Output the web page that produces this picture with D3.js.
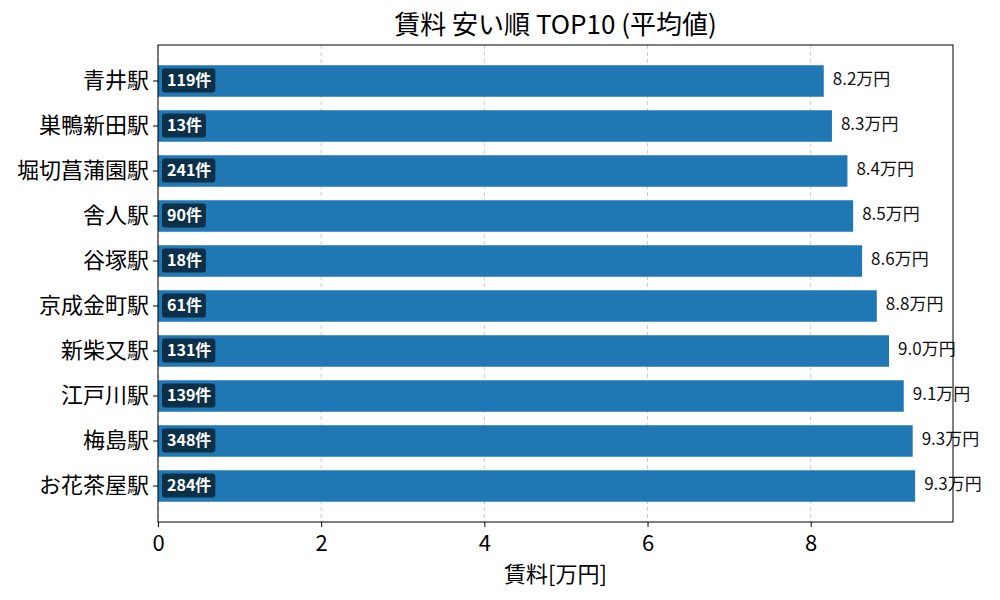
<!DOCTYPE html>
<html>
<head>
<meta charset="utf-8">
<title>賃料 安い順 TOP10</title>
<script src="https://d3js.org/d3.v7.min.js"></script>
<style>
  body { margin: 0; background: #fff; }
  text { font-family: "Noto Sans CJK JP", "Noto Sans", sans-serif; }
</style>
</head>
<body>
<script>
// data
var stations = ["青井駅", "巣鴨新田駅", "堀切菖蒲園駅", "舎人駅", "谷塚駅", "京成金町駅", "新柴又駅", "江戸川駅", "梅島駅", "お花茶屋駅"];
var rents = [8.16, 8.26, 8.45, 8.52, 8.63, 8.81, 8.96, 9.14, 9.25, 9.28];
var rentLabels = ["8.2", "8.3", "8.4", "8.5", "8.6", "8.8", "9.0", "9.1", "9.3", "9.3"];
var counts = [119, 13, 241, 90, 18, 61, 131, 139, 348, 284];
var xTicks = [0, 2, 4, 6, 8];

var w = 1000, h = 600;
var m = {left: 158, top: 45, right: 47, bottom: 78};
var iw = w - m.left - m.right, ih = h - m.top - m.bottom;

var svg = d3.select("body").append("svg").attr("width", w).attr("height", h);
var g = svg.append("g").attr("transform", "translate(" + m.left + "," + m.top + ")");

var x = d3.scaleLinear().domain([0, d3.max(rents) * 1.05]).range([0, iw]);
var y = d3.scaleBand().domain(stations).range([0, ih]).paddingInner(0.3).paddingOuter(0.45);

// grid
g.selectAll("line.grid").data(xTicks).enter().append("line")
  .attr("class", "grid")
  .attr("x1", function(d) { return x(d); })
  .attr("x2", function(d) { return x(d); })
  .attr("y1", 0).attr("y2", ih)
  .attr("stroke", "#cccccc").attr("stroke-width", 1)
  .attr("stroke-dasharray", "4,3");

// bars
var rows = stations.map(function(s, i) { return {name: s, v: rents[i], lab: rentLabels[i], n: counts[i]}; });
g.selectAll("rect.bar").data(rows).enter().append("rect")
  .attr("class", "bar")
  .attr("x", x(0))
  .attr("y", function(d) { return y(d.name); })
  .attr("width", function(d) { return x(d.v) - x(0); })
  .attr("height", y.bandwidth())
  .attr("fill", "#1f77b4");

// value labels
g.selectAll("text.val").data(rows).enter().append("text")
  .attr("class", "val")
  .attr("x", function(d) { return x(d.v) + 9; })
  .attr("y", function(d) { return y(d.name) + y.bandwidth() / 2; })
  .attr("dy", "0.25em")
  .attr("font-size", 17)
  .attr("fill", "#111")
  .text(function(d) { return d.lab + "万円"; });

// count badges
var badge = g.selectAll("g.badge").data(rows).enter().append("g")
  .attr("class", "badge")
  .attr("transform", function(d) { return "translate(" + (x(0) + 4) + "," + (y(d.name) + y.bandwidth() / 2) + ")"; });
badge.append("text")
  .attr("x", 5)
  .attr("dy", "0.3em")
  .attr("font-size", 16)
  .attr("font-weight", "bold")
  .attr("fill", "#fff")
  .text(function(d) { return d.n + "件"; });
badge.each(function() {
  var t = d3.select(this).select("text");
  var bb = t.node().getBBox();
  d3.select(this).insert("rect", "text")
    .attr("x", 0).attr("y", -12.5)
    .attr("width", bb.width + 9).attr("height", 24)
    .attr("rx", 3)
    .attr("fill", "#0d3049");
});

// axes
var xAxis = g.append("g").attr("transform", "translate(0," + ih + ")")
  .call(d3.axisBottom(x).tickValues(xTicks).tickFormat(d3.format("d")).tickSizeOuter(0).tickSize(5));
xAxis.selectAll("text").attr("font-size", 22).attr("dy", "0.95em").attr("fill", "#000");
xAxis.select(".domain").remove();

var yAxis = g.append("g").call(d3.axisLeft(y).tickSizeOuter(0).tickSize(5));
yAxis.selectAll("text").attr("font-size", 22).attr("fill", "#000").attr("dx", "-0.05em");
yAxis.select(".domain").remove();

// frame
g.append("rect").attr("width", iw).attr("height", ih)
  .attr("fill", "none").attr("stroke", "#000").attr("stroke-width", 1);

// title + label
svg.append("text").attr("x", m.left + iw / 2).attr("y", 34)
  .attr("text-anchor", "middle").attr("font-size", 26).text("賃料 安い順 TOP10 (平均値)");
svg.append("text").attr("x", m.left + iw / 2).attr("y", 582)
  .attr("text-anchor", "middle").attr("font-size", 22).text("賃料[万円]");
</script>
</body>
</html>
